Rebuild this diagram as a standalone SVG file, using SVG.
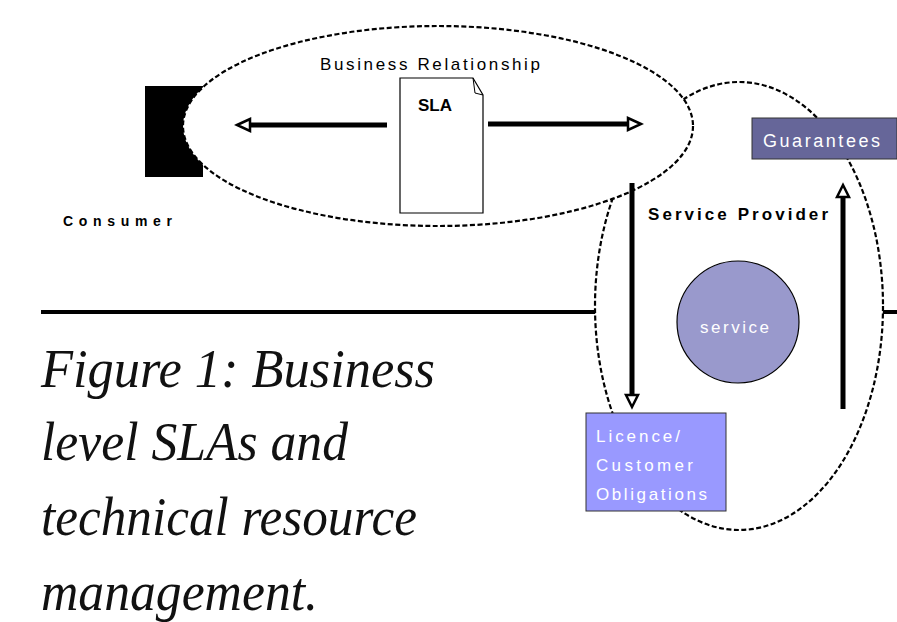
<svg xmlns="http://www.w3.org/2000/svg" width="897" height="622" viewBox="0 0 897 622">
<style>
.dash{fill:#fff;stroke:#000;stroke-width:2.2;stroke-dasharray:5 2.5}
.shaft{stroke:#000;stroke-width:5;fill:none}
.head{fill:#fff;stroke:#000;stroke-width:2.5;stroke-linejoin:miter}
.lbl{font-family:"Liberation Sans",Arial,sans-serif;fill:#000}
.wht{font-family:"Liberation Sans",Arial,sans-serif;fill:#fff}
.cap{font-family:"Liberation Serif","Times New Roman",serif;font-style:italic;font-size:54px;fill:#111}
</style>
<rect width="897" height="622" fill="#fff"/>
<g id="consumer">
<rect x="145" y="86" width="58" height="91" fill="#000"/>
<text class="lbl" x="63" y="226" font-size="14" font-weight="bold" textLength="109" lengthAdjust="spacing">Consumer</text>
</g>
<line x1="41" y1="312" x2="897" y2="312" stroke="#000" stroke-width="4"/>
<g id="provider">
<ellipse class="dash" cx="739" cy="306" rx="144" ry="224"/>
</g>
<g id="business">
<ellipse class="dash" cx="438" cy="126" rx="255" ry="100"/>
<text class="lbl" x="320" y="70" font-size="17" textLength="220" lengthAdjust="spacing">Business Relationship</text>
</g>
<g id="sla">
<path d="M400,78 H473 L483,95 V213 H400 Z" fill="#fff" stroke="#000" stroke-width="1.2"/>
<path d="M473,78 L475,93 L483,95" fill="none" stroke="#000" stroke-width="1"/>
<text class="lbl" x="418" y="111" font-size="17" font-weight="bold" textLength="34" lengthAdjust="spacing">SLA</text>
</g>
<g id="guarantees">
<rect x="752" y="118" width="145" height="41" fill="#666699" stroke="#333" stroke-width="1"/>
<text class="wht" x="763" y="147" font-size="18" textLength="117" lengthAdjust="spacing">Guarantees</text>
</g>
<g id="service">
<circle cx="738" cy="322" r="61" fill="#9999cc" stroke="#000" stroke-width="1.2"/>
<text class="wht" x="700" y="333" font-size="17" textLength="69" lengthAdjust="spacing">service</text>
</g>
<g id="licence">
<rect x="586" y="413" width="140" height="98" fill="#9999ff" stroke="#333" stroke-width="1"/>
<text class="wht" x="596" y="442" font-size="17" textLength="84" lengthAdjust="spacing">Licence/</text>
<text class="wht" x="596" y="471" font-size="17" textLength="97" lengthAdjust="spacing">Customer</text>
<text class="wht" x="596" y="500" font-size="17" textLength="111" lengthAdjust="spacing">Obligations</text>
</g>
<text class="lbl" x="648" y="220" font-size="17" font-weight="bold" textLength="180" lengthAdjust="spacing">Service Provider</text>
<g id="connectors">
<line class="shaft" x1="387" y1="125" x2="248" y2="125"/>
<polygon class="head" points="237,125 250,119 250,131"/>
<line class="shaft" x1="488" y1="124" x2="630" y2="124"/>
<polygon class="head" points="641,124 628,118 628,130"/>
<line class="shaft" x1="632" y1="183" x2="632" y2="396"/>
<polygon class="head" points="632,407 626,395 638,395"/>
<line class="shaft" x1="843" y1="409" x2="843" y2="196"/>
<polygon class="head" points="843,185 837,197 849,197"/>
</g>
<g id="caption">
<text class="cap" x="41" y="387" textLength="394" lengthAdjust="spacingAndGlyphs">Figure 1:  Business</text>
<text class="cap" x="41" y="460" textLength="307" lengthAdjust="spacingAndGlyphs">level SLAs and</text>
<text class="cap" x="41" y="535" textLength="376" lengthAdjust="spacingAndGlyphs">technical resource</text>
<text class="cap" x="41" y="610" textLength="277" lengthAdjust="spacingAndGlyphs">management.</text>
</g>
</svg>
